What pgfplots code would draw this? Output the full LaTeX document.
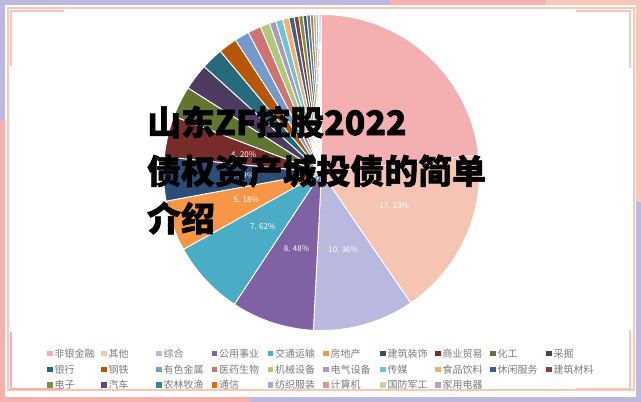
\documentclass[border=0pt]{standalone}
\usepackage{fontspec}
\setmainfont{Noto Sans CJK SC}
\newfontfamily\titlefam{Noto Sans CJK SC}[BoldFeatures={FakeBold=1.6}]
\usepackage{pgfplots}
\pgfplotsset{compat=1.18}
\usepackage{pgfplotstable}

% slice colours
\definecolor{c01}{HTML}{F4AFB1}
\definecolor{c02}{HTML}{F5C4B3}
\definecolor{c03}{HTML}{B9B8DE}
\definecolor{c04}{HTML}{7E62A3}
\definecolor{c05}{HTML}{4BACC6}
\definecolor{c06}{HTML}{F79646}
\definecolor{c07}{HTML}{2C4D75}
\definecolor{c08}{HTML}{772C2A}
\definecolor{c09}{HTML}{5F7530}
\definecolor{c10}{HTML}{4D3B62}
\definecolor{c11}{HTML}{276A7C}
\definecolor{c12}{HTML}{B65708}
\definecolor{c13}{HTML}{729ACA}
\definecolor{c14}{HTML}{CD7371}
\definecolor{c15}{HTML}{AFC97A}
\definecolor{c16}{HTML}{A99BBD}
\definecolor{c17}{HTML}{6FC3D7}
\definecolor{c18}{HTML}{F9AB6B}
\definecolor{c19}{HTML}{3A5F8B}
\definecolor{c20}{HTML}{8F3C3A}
\definecolor{c21}{HTML}{77933C}
\definecolor{c22}{HTML}{5F4A7B}
\definecolor{c23}{HTML}{31859C}
\definecolor{c24}{HTML}{E46C0A}
\definecolor{c25}{HTML}{95B3D7}
\definecolor{c26}{HTML}{D99694}
\definecolor{c27}{HTML}{C3D69B}
\definecolor{c28}{HTML}{B3A2C7}
% frame colours
\definecolor{bandlav}{HTML}{BDB9DE}
\definecolor{bandpink}{HTML}{F6B1AE}
\definecolor{bandpeach}{HTML}{F7C7BA}
\definecolor{legtext}{HTML}{7A7A7A}

\pgfplotstableread[col sep=comma]{
name,value,clr
非银金融,23.23,c01
其他,17.23,c02
综合,10.36,c03
公用事业,8.48,c04
交通运输,7.62,c05
房地产,5.18,c06
建筑装饰,4.49,c07
商业贸易,4.20,c08
化工,3.20,c09
采掘,2.70,c10
银行,2.25,c11
钢铁,1.90,c12
有色金属,1.50,c13
医药生物,1.35,c14
机械设备,0.97,c15
电气设备,0.67,c16
传媒,0.72,c17
食品饮料,0.64,c18
休闲服务,0.53,c19
建筑材料,0.47,c20
电子,0.44,c21
汽车,0.39,c22
农林牧渔,0.35,c23
通信,0.30,c24
纺织服装,0.28,c25
计算机,0.22,c26
国防军工,0.18,c27
家用电器,0.15,c28
}\piedata

\def\pctlabel#1.#2\relax{#1. #2\%}
\def\labelfont{\fontsize{8}{9}\selectfont}
\def\legfont{\fontsize{10}{12}\selectfont}
\def\titlefont{\titlefam\fontsize{34}{40}\selectfont\bfseries}

\begin{document}
\begin{tikzpicture}
\begin{axis}[
    width=641bp, height=402bp, scale only axis,
    xmin=0, xmax=641, ymin=0, ymax=402,
    hide axis, clip=false,
]
% frame bands
\fill[bandlav]   (axis cs:0,397) rectangle (axis cs:390,402);
\fill[bandpink]  (axis cs:390,397) rectangle (axis cs:545,402);
\fill[bandpeach] (axis cs:545,397) rectangle (axis cs:641,402);
\fill[bandpink]  (axis cs:0,0) rectangle (axis cs:250,5);
\fill[bandlav]   (axis cs:250,0) rectangle (axis cs:641,5);
\fill[bandlav]   (axis cs:0,282) rectangle (axis cs:5,402);
\fill[bandpink]  (axis cs:0,0) rectangle (axis cs:5,282);
\fill[bandpeach] (axis cs:636,200) rectangle (axis cs:641,402);
\fill[bandlav]   (axis cs:636,0) rectangle (axis cs:641,200);
\draw[bandpeach, line width=1.3bp] (axis cs:8,12) rectangle (axis cs:634,394);
\draw[bandpeach, line width=2.6bp] (axis cs:11,336) -- (axis cs:11,391) -- (axis cs:64,391);
\draw[bandpeach, line width=2.6bp] (axis cs:576,391) -- (axis cs:630,391) -- (axis cs:630,334);
\draw[bandpink, line width=2.6bp] (axis cs:11,70) -- (axis cs:11,13) -- (axis cs:62,13);
\draw[bandpeach, line width=2.6bp] (axis cs:576,13) -- (axis cs:630,13) -- (axis cs:630,72);

% pie slices, clockwise from 12 o'clock
\def\angA{90}
\pgfplotsforeachungrouped \i in {0,...,27}{%
  \pgfplotstablegetelem{\i}{value}\of\piedata \let\val\pgfplotsretval
  \pgfplotstablegetelem{\i}{clr}\of\piedata \let\clr\pgfplotsretval
  \pgfmathsetmacro\angB{\angA-3.6*\val}
  \pgfmathsetmacro\angM{(\angA+\angB)/2}
  \edef\doslice{\noexpand\fill[\clr, draw=white, line width=0.9bp]
    (axis cs:321.5,229.5) -- ([shift={(\angA:158bp)}]axis cs:321.5,229.5)
    arc[start angle=\angA, end angle=\angB, radius=158bp] -- cycle;}%
  \doslice
  % labels that the title does not cover entirely
  \pgfmathparse{and(\val>=4, \val<20) ? 1 : 0}%
  \ifnum\pgfmathresult=1
    \edef\dolabel{\noexpand\node[text=white, font=\noexpand\labelfont]
      at ([shift={(\angM:80bp)}]axis cs:321.5,229.5)
      {\noexpand\pctlabel\val\noexpand\relax};}%
    \dolabel
  \fi
  \let\angA\angB
}

% title over the pie
\node[anchor=west, inner sep=0pt, font=\titlefont] at (axis cs:147,280) {山东ZF控股2022};
\node[anchor=west, inner sep=0pt, font=\titlefont] at (axis cs:147,231) {债权资产城投债的简单};
\node[anchor=west, inner sep=0pt, font=\titlefont] at (axis cs:147,184) {介绍};

% legend, 10 columns
\pgfplotsforeachungrouped \i in {0,...,27}{%
  \pgfplotstablegetelem{\i}{name}\of\piedata \let\nm\pgfplotsretval
  \pgfplotstablegetelem{\i}{clr}\of\piedata \let\clr\pgfplotsretval
  \pgfmathtruncatemacro\col{mod(\i,10)}
  \pgfmathtruncatemacro\row{floor(\i/10)}
  \pgfmathsetmacro\lx{{50,104,159,214.5,270.5,326,383,438,493,549}[\col]}
  \pgfmathsetmacro\ly{48.5-15.8*\row}
  \pgfmathsetmacro\lxa{\lx-2.6}\pgfmathsetmacro\lxb{\lx+2.6}
  \pgfmathsetmacro\lya{\ly-2.6}\pgfmathsetmacro\lyb{\ly+2.6}
  \pgfmathsetmacro\tx{\lx+4.5}
  \edef\doleg{\noexpand\fill[\clr] (axis cs:\lxa,\lya) rectangle (axis cs:\lxb,\lyb);
    \noexpand\node[anchor=west, inner sep=0pt, text=legtext, font=\noexpand\legfont]
      at (axis cs:\tx,\ly) {\nm};}%
  \doleg
}
\end{axis}
\pgfresetboundingbox
\path (0,0) rectangle (641bp,402bp);
\end{tikzpicture}
\end{document}
